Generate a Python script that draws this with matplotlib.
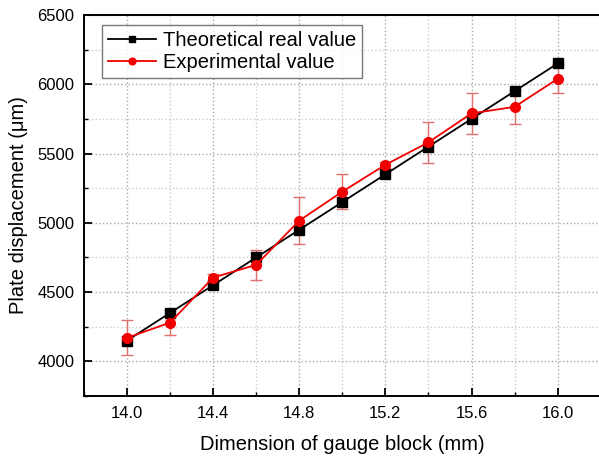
import matplotlib
matplotlib.use("Agg")
import matplotlib.pyplot as plt
from matplotlib.ticker import MultipleLocator

plt.rcParams['font.family'] = ['Liberation Sans', 'DejaVu Sans']

gauge = [14.0, 14.2, 14.4, 14.6, 14.8, 15.0, 15.2, 15.4, 15.6, 15.8, 16.0]
theoretical = [4150, 4350, 4550, 4750, 4950, 5150, 5350, 5550, 5750, 5950, 6150]
experimental = [4170, 4280, 4605, 4697, 5016, 5225, 5419, 5581, 5790, 5837, 6039]
exp_err = [125, 90, 25, 110, 170, 127, 20, 150, 150, 125, 105]
xtick_vals = [14.0, 14.4, 14.8, 15.2, 15.6, 16.0]
xtick_labels = ['14.0', '14.4', '14.8', '15.2', '15.6', '16.0']

fig = plt.figure(figsize=(5.99, 4.58), dpi=100)
ax = fig.add_axes([84/599, 62/458, 516.7/599, 381/458])

ax.errorbar(gauge, experimental, yerr=exp_err, fmt='none', ecolor='#e07070',
            elinewidth=1.0, capsize=4, capthick=1.0, zorder=2)
ax.plot(gauge, theoretical, color='black', marker='s', markersize=6.5,
        linewidth=1.3, label='Theoretical real value', zorder=3)
ax.plot(gauge, experimental, color='#f00000', marker='o', markersize=7,
        linewidth=1.3, label='Experimental value', zorder=4)

ax.set_xlim(13.8, 16.2)
ax.set_ylim(3750, 6500)
ax.xaxis.set_minor_locator(MultipleLocator(0.2))
ax.yaxis.set_major_locator(MultipleLocator(500))
ax.yaxis.set_minor_locator(MultipleLocator(250))
ax.set_xticks(xtick_vals)
ax.set_xticklabels(xtick_labels)

ax.grid(which='major', linestyle=':', color='#aaaaaa', linewidth=1.0)
ax.grid(which='minor', linestyle=':', color='#cccccc', linewidth=1.0)
ax.set_axisbelow(True)

ax.tick_params(which='major', direction='in', length=6, width=1.3, labelsize=12, pad=7)
ax.tick_params(which='minor', direction='in', length=3, width=1.0)
for s in ax.spines.values():
    s.set_linewidth(1.4)

ax.set_xlabel('Dimension of gauge block (mm)', fontsize=14.5, labelpad=10)
ax.set_ylabel('Plate displacement (μm)', fontsize=14.5, labelpad=7)

leg = ax.legend(loc='upper left', bbox_to_anchor=(0.035, 0.974), fontsize=14.5,
                frameon=True, fancybox=False, edgecolor='#555555',
                handlelength=2.4, borderpad=0.3, labelspacing=0.15,
                handletextpad=0.3, markerscale=0.7, borderaxespad=0)
leg.get_frame().set_linewidth(1.0)

fig.savefig('out.png', dpi=100)
